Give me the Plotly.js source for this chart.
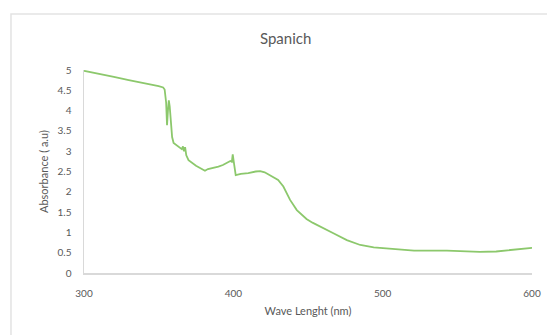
<!DOCTYPE html>
<html>
<head>
<meta charset="utf-8">
<script src="https://cdn.plot.ly/plotly-3.0.1.min.js"></script>
<style>html,body{margin:0;padding:0;background:#fff;}#chart{width:547px;height:335px;}</style>
</head>
<body>
<div id="chart"></div>
<script>
// Wavelength (nm)
var wavelength = [300, 310, 320, 330, 340, 350, 353, 354, 355, 355.6, 356.2, 356.8, 357.4, 358, 359, 360, 362, 364, 365.5, 366.3, 367, 367.7, 368.5, 370, 372, 375, 378, 381, 383, 386, 390, 393, 396, 398, 399, 399.6, 400.3, 401, 401.6, 405, 410, 415, 418, 421, 425, 430, 433.5, 438, 442.5, 446, 449, 453, 458, 467, 476, 485, 494, 500, 512, 521, 543, 565, 576, 588, 600];
// Absorbance (a.u)
var absorbance = [4.98, 4.91, 4.83, 4.75, 4.68, 4.60, 4.57, 4.52, 4.2, 3.64, 4.0, 4.25, 4.1, 3.7, 3.35, 3.2, 3.15, 3.1, 3.05, 3.12, 3.0, 3.1, 2.9, 2.78, 2.72, 2.64, 2.58, 2.52, 2.56, 2.58, 2.62, 2.66, 2.72, 2.76, 2.74, 2.92, 2.74, 2.48, 2.41, 2.44, 2.46, 2.50, 2.51, 2.48, 2.40, 2.29, 2.13, 1.80, 1.55, 1.42, 1.33, 1.24, 1.14, 0.98, 0.81, 0.69, 0.63, 0.61, 0.58, 0.55, 0.55, 0.52, 0.53, 0.57, 0.62];
var xTicks = [300, 400, 500, 600];
var yTicks = [0, 0.5, 1, 1.5, 2, 2.5, 3, 3.5, 4, 4.5, 5];
var chartTitle = "Spanich";
var xTitle = "Wave Lenght (nm)";
var yTitle = "Absorbance ( a.u)";

var fontFam = "Lato, 'Open Sans', sans-serif";
var grey = "#595959";

var trace = {
  x: wavelength,
  y: absorbance,
  type: "scatter",
  mode: "lines",
  line: {color: "#8cc86c", width: 1.8},
  hoverinfo: "skip"
};

var layout = {
  width: 547,
  height: 335,
  margin: {l: 84, r: 15, t: 70, b: 62, pad: 0},
  paper_bgcolor: "#ffffff",
  plot_bgcolor: "#ffffff",
  showlegend: false,
  font: {family: fontFam, color: grey, size: 10},
  title: {
    text: chartTitle,
    font: {family: fontFam, size: 15, color: grey},
    xref: "paper", x: 0.45, xanchor: "center",
    yref: "container", y: 0.885, yanchor: "middle"
  },
  xaxis: {
    range: [300, 600],
    tickvals: xTicks,
    ticks: "",
    showgrid: false,
    zeroline: false,
    showline: true,
    linecolor: "#d9d9d9",
    linewidth: 1.5,
    ticklabelstandoff: 10,
    tickfont: {family: fontFam, size: 10, color: grey},
    automargin: false,
    title: {text: xTitle, font: {family: fontFam, size: 11, color: grey}, standoff: 10}
  },
  yaxis: {
    range: [0, 5],
    tickvals: yTicks,
    ticks: "",
    showgrid: false,
    zeroline: false,
    showline: true,
    linecolor: "#d9d9d9",
    linewidth: 1.5,
    ticklabelstandoff: 9,
    tickfont: {family: fontFam, size: 10, color: grey},
    automargin: false,
    title: {text: yTitle, font: {family: fontFam, size: 11, color: grey}, standoff: 6}
  },
  shapes: [{
    type: "rect", xref: "paper", yref: "paper", layer: "below",
    x0: -0.163, x1: 1.2, y0: -0.5, y1: 1.276,
    line: {color: "#e3e3e3", width: 1.5}, fillcolor: "rgba(0,0,0,0)"
  }]
};

Plotly.newPlot("chart", [trace], layout, {staticPlot: true, displayModeBar: false});
</script>
</body>
</html>
